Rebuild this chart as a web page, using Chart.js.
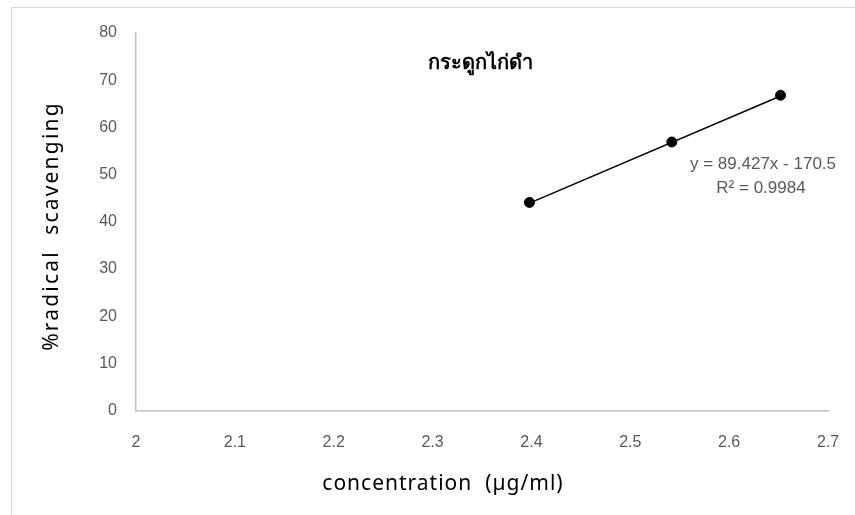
<!DOCTYPE html>
<html>
    <head>
        <meta charset="UTF-8" />
        <title> Chart </title>
        <style type="text/css">
            body{ margin: 0; background: #ffffff; }
            .chartBox{ width: 855px; height: 515px; }
        </style>
    </head>
    <body>
        <div class="chartBox">
            <canvas id="myChart" width="855" height="515"></canvas>
        </div>

        <script src="https://cdn.jsdelivr.net/npm/chart.js"></script>

        <script>
        //data
        const concentration = [2.398, 2.542, 2.652];
        const scavenging = [44.1, 56.9, 66.8];
        const slope = 89.427;
        const intercept = -170.5;
        const xTicks = [2, 2.1, 2.2, 2.3, 2.4, 2.5, 2.6, 2.7];
        const yTicks = [0, 10, 20, 30, 40, 50, 60, 70, 80];

        const points = concentration.map((x, i) => ({x: x, y: scavenging[i]}));
        const xFirst = concentration[0];
        const xLast = concentration[concentration.length - 1];
        const trend = [
            {x: xFirst, y: slope * xFirst + intercept},
            {x: xLast, y: slope * xLast + intercept}
        ];

        //texts and frame
        const extras = {
            id: 'extras',
            beforeDraw(chart) {
                const ctx = chart.ctx;
                ctx.save();
                ctx.strokeStyle = '#d9d9d9';
                ctx.lineWidth = 1;
                ctx.strokeRect(11.5, 7.5, 900, 600);
                ctx.restore();
            },
            afterDraw(chart) {
                const ctx = chart.ctx;
                ctx.save();
                ctx.textAlign = 'center';
                ctx.textBaseline = 'middle';

                ctx.fillStyle = '#000000';
                ctx.font = 'bold 20px "Noto Sans", sans-serif';
                ctx.fillText('กระดูกไก่ดำ', 480, 63);

                ctx.fillStyle = '#595959';
                ctx.font = '17px "Liberation Sans Narrow", "Liberation Sans", sans-serif';
                ctx.fillText('y = 89.427x - 170.5', 763, 164);
                ctx.fillText('R² = 0.9984', 761, 188);

                ctx.fillStyle = '#000000';
                ctx.font = '21px "Noto Sans", sans-serif';
                ctx.letterSpacing = '1px';
                ctx.fillText('concentration  (µg/ml)', 443, 484);

                ctx.letterSpacing = '2.2px';
                ctx.translate(52, 226);
                ctx.rotate(-Math.PI / 2);
                ctx.fillText('%radical  scavenging', 0, 0);
                ctx.restore();
            }
        };

        //config
        const config = {
            type: 'scatter',
            data: {
                datasets: [
                    {
                        label: 'trend',
                        data: trend,
                        showLine: true,
                        borderColor: '#000000',
                        borderWidth: 1.5,
                        pointRadius: 0,
                        order: 2
                    },
                    {
                        label: 'data',
                        data: points,
                        backgroundColor: '#000000',
                        borderColor: '#000000',
                        pointRadius: 5,
                        order: 1
                    }
                ]
            },
            options: {
                responsive: false,
                animation: false,
                layout: {
                    padding: {top: 33, right: 27, left: 0, bottom: 0}
                },
                plugins: {
                    legend: {display: false},
                    tooltip: {enabled: false}
                },
                scales: {
                    x: {
                        type: 'linear',
                        min: xTicks[0],
                        max: xTicks[xTicks.length - 1],
                        afterBuildTicks: (scale) => { scale.ticks = xTicks.map(v => ({value: v})); },
                        afterFit: (scale) => {
                            scale.height = 104.5;
                            scale.paddingLeft = 0;
                            scale.paddingRight = 0;
                        },
                        grid: {color: 'transparent', drawTicks: false},
                        border: {color: '#bfbfbf', width: 1.5},
                        ticks: {
                            padding: 22,
                            color: '#595959',
                            font: {size: 16, family: '"Liberation Sans Narrow", "Liberation Sans", sans-serif'},
                            callback: (v) => String(+v.toFixed(1))
                        }
                    },
                    y: {
                        min: yTicks[0],
                        max: yTicks[yTicks.length - 1],
                        afterBuildTicks: (scale) => { scale.ticks = yTicks.map(v => ({value: v})); },
                        afterFit: (scale) => { scale.width = 136; },
                        grid: {color: 'transparent', drawTicks: false},
                        border: {color: '#bfbfbf', width: 1.5},
                        ticks: {
                            padding: 19,
                            color: '#595959',
                            font: {size: 16, family: '"Liberation Sans Narrow", "Liberation Sans", sans-serif'}
                        }
                    }
                }
            },
            plugins: [extras]
        };

        //render init
        const myChart = new Chart(document.getElementById('myChart'), config);
        </script>
    </body>
</html>
